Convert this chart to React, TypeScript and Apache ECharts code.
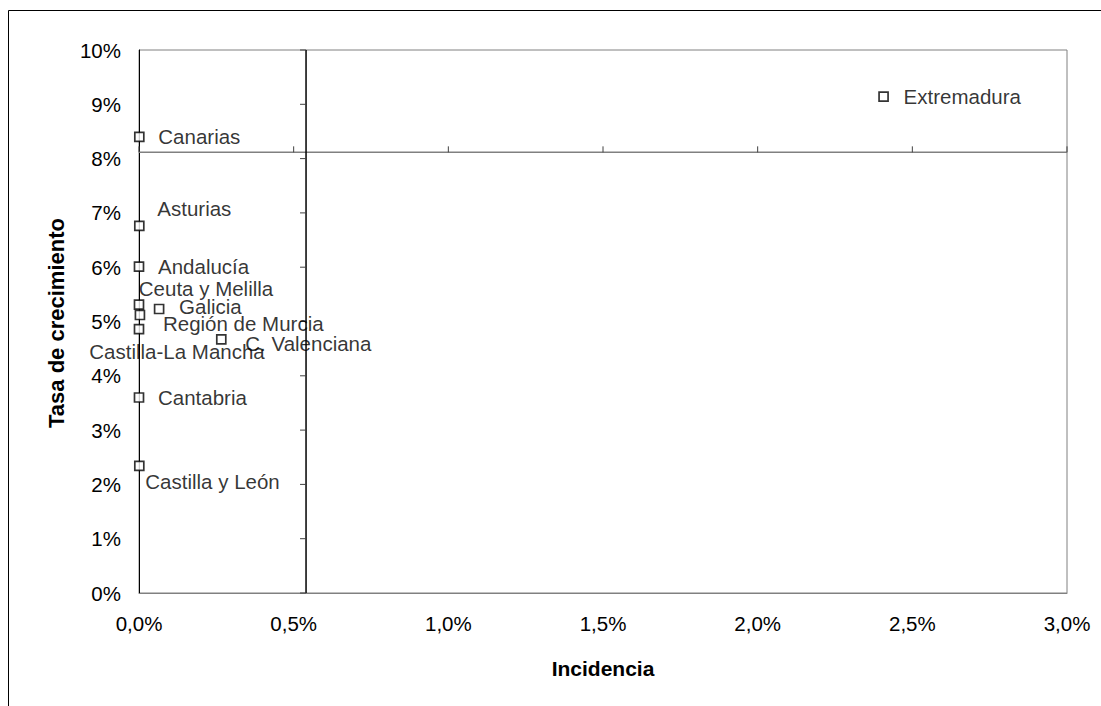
import React, { useEffect, useRef } from "react";
import * as echarts from "echarts";

// ---- Data ----
const regions = [
  "Extremadura",
  "Canarias",
  "Asturias",
  "Andalucía",
  "Ceuta y Melilla",
  "Galicia",
  "Región de Murcia",
  "Castilla-La Mancha",
  "C. Valenciana",
  "Cantabria",
  "Castilla y León",
];
const incidencia = [0.02407, 0.00001, 0.00001, 0.0, 0.0, 0.00065, 0.00003, 0.0, 0.00266, 0.0, 0.00001];
const crecimiento = [0.0914, 0.084, 0.0676, 0.0601, 0.0531, 0.0523, 0.0512, 0.0486, 0.0467, 0.036, 0.0234];

const xTicks = [0, 0.005, 0.01, 0.015, 0.02, 0.025, 0.03];
const yTicks = [0, 0.01, 0.02, 0.03, 0.04, 0.05, 0.06, 0.07, 0.08, 0.09, 0.1];

// axis crossing values (Excel-style crossing axes)
const xCross = 0.0054;
const yCross = 0.08115;

// label placement (style only)
const labelLayout: Record<string, { align: string; offset: [number, number] }> = {
  Extremadura: { align: "left", offset: [20, 0] },
  Canarias: { align: "left", offset: [19, 0] },
  Asturias: { align: "left", offset: [18, -17] },
  "Andalucía": { align: "left", offset: [19, 0] },
  "Ceuta y Melilla": { align: "center", offset: [67, -16] },
  Galicia: { align: "left", offset: [20, -3] },
  "Región de Murcia": { align: "left", offset: [23, 9] },
  "Castilla-La Mancha": { align: "center", offset: [38, 22] },
  "C. Valenciana": { align: "left", offset: [24, 4] },
  Cantabria: { align: "left", offset: [19, 0] },
  "Castilla y León": { align: "left", offset: [6, 16] },
};

const FONT = "'Liberation Sans', Arial, Helvetica, sans-serif";

export default function App() {
  const ref = useRef<HTMLDivElement>(null);

  useEffect(() => {
    if (!ref.current) return;
    const chart = echarts.init(ref.current, undefined, { renderer: "svg" });

    const scatterData = regions.map((name, i) => ({
      name,
      value: [incidencia[i], crecimiento[i]],
      label: {
        show: true,
        position: "inside",
        color: "#000",
        align: labelLayout[name].align,
        verticalAlign: "middle",
        offset: labelLayout[name].offset,
      },
    }));

    const option: any = {
      animation: false,
      backgroundColor: "#ffffff",
      textStyle: { fontFamily: FONT },
      grid: {
        left: 139,
        right: 34,
        top: 50,
        bottom: 113,
        show: true,
        borderColor: "#808080",
        borderWidth: 1,
      },
      xAxis: {
        type: "value",
        min: 0,
        max: 0.03,
        interval: 0.005,
        axisLine: { show: true, lineStyle: { color: "#808080", width: 1 } },
        axisTick: { show: false },
        splitLine: { show: false },
        axisLabel: {
          margin: 20,
          color: "#000",
          fontSize: 20.5,
          fontFamily: FONT,
          formatter: (v: number) => (v * 100).toFixed(1).replace(".", ",") + "%",
        },
      },
      yAxis: {
        type: "value",
        min: 0,
        max: 0.1,
        interval: 0.01,
        axisLine: { show: true, lineStyle: { color: "#000", width: 1 } },
        axisTick: { show: false },
        splitLine: { show: false },
        axisLabel: {
          margin: 18,
          color: "#000",
          fontSize: 20.5,
          fontFamily: FONT,
          formatter: (v: number) => Math.round(v * 100) + "%",
        },
      },
      graphic: [
        {
          type: "rect",
          silent: true,
          shape: { x: 8.5, y: 10.5, width: 1200, height: 800 },
          style: { fill: "none", stroke: "#000", lineWidth: 1 },
          z: -10,
        },
        {
          type: "text",
          x: 603,
          y: 668,
          style: {
            text: "Incidencia",
            fontSize: 21,
            fontWeight: "bold",
            fontFamily: FONT,
            fill: "#000",
            align: "center",
            verticalAlign: "middle",
          },
        },
        {
          type: "text",
          x: 56,
          y: 323,
          rotation: Math.PI / 2,
          style: {
            text: "Tasa de crecimiento",
            fontSize: 22,
            fontWeight: "bold",
            fontFamily: FONT,
            fill: "#000",
            align: "center",
            verticalAlign: "middle",
          },
        },
      ],
      series: [
        {
          type: "custom",
          silent: true,
          clip: false,
          z: 1,
          data: [[0, 0]],
          renderItem: (_params: any, api: any) => {
            const children: any[] = [];
            const hA = api.coord([0, yCross]);
            const hB = api.coord([0.03, yCross]);
            children.push({
              type: "line",
              shape: { x1: hA[0], y1: hA[1], x2: hB[0], y2: hB[1] },
              style: { stroke: "#808080", lineWidth: 1.5 },
            });
            const vA = api.coord([xCross, 0]);
            const vB = api.coord([xCross, 0.1]);
            children.push({
              type: "line",
              shape: { x1: vA[0], y1: vA[1], x2: vB[0], y2: vB[1] },
              style: { stroke: "#000", lineWidth: 1.5 },
            });
            xTicks.forEach((t) => {
              const p = api.coord([t, yCross]);
              children.push({
                type: "line",
                shape: { x1: p[0], y1: p[1], x2: p[0], y2: p[1] - 6 },
                style: { stroke: "#404040", lineWidth: 1 },
              });
            });
            yTicks.forEach((t) => {
              const p = api.coord([xCross, t]);
              children.push({
                type: "line",
                shape: { x1: p[0], y1: p[1], x2: p[0] - 6, y2: p[1] },
                style: { stroke: "#404040", lineWidth: 1 },
              });
            });
            return { type: "group", children };
          },
        },
        {
          type: "scatter",
          z: 5,
          symbol: "rect",
          symbolSize: 9,
          itemStyle: { color: "#ffffff", borderColor: "#000", borderWidth: 1.7 },
          label: {
            color: "#000",
            fontSize: 20.5,
            fontFamily: FONT,
            formatter: (p: any) => p.name,
          },
          emphasis: { disabled: true },
          data: scatterData,
        },
      ],
    };

    chart.setOption(option);
    return () => chart.dispose();
  }, []);

  return (
    <div
      ref={ref}
      style={{ position: "fixed", left: 0, top: 0, width: 1101, height: 706, background: "#fff" }}
    />
  );
}
